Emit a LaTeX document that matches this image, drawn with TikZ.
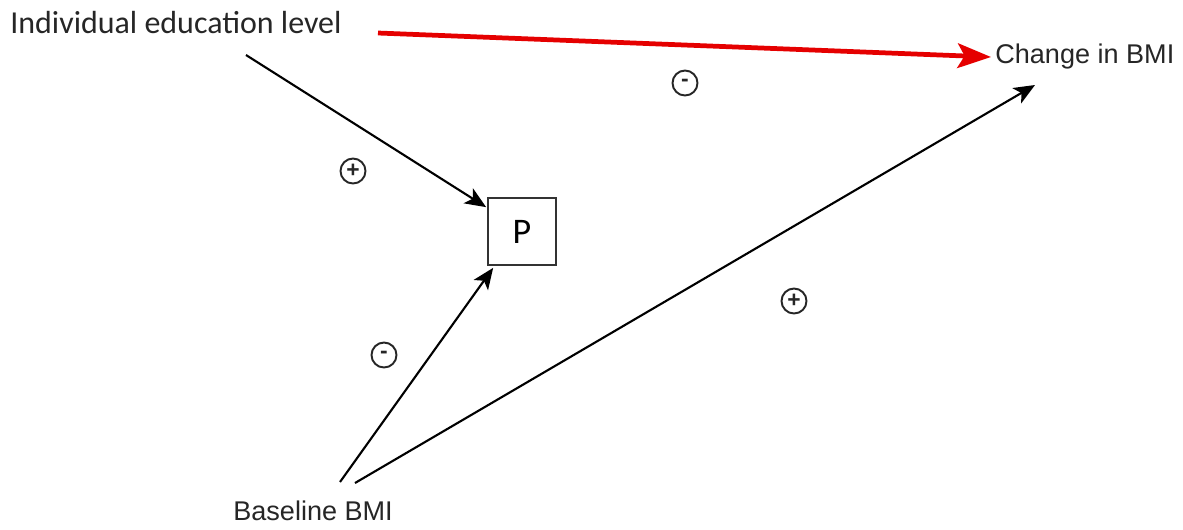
\documentclass[tikz,border=0pt]{standalone}
\usepackage{fontspec}
\setmainfont{Liberation Sans}
\newfontfamily\califont{Carlito}
\usetikzlibrary{arrows.meta,calc}
\begin{document}
\begin{tikzpicture}[x=0.02cm,y=-0.02cm,
  lbl/.style={inner sep=0pt,anchor=base west,font=\fontsize{15.4pt}{18pt}\selectfont,text=black!85},
  conn/.style={line width=1.2pt,draw=black,-{Stealth[length=12pt,width=10pt,inset=3pt]}},
  redconn/.style={line width=2.7pt,draw=red!90!black,-{Stealth[length=19pt,width=14pt,inset=4pt]}},
  sign/.style={circle,draw=black!85,line width=1.1pt,minimum size=0.5cm,inner sep=0pt,font=\fontsize{13pt}{14pt}\selectfont\bfseries,text=black!85},
  pbox/.style={draw=black!80,line width=1pt,minimum width=1.36cm,minimum height=1.34cm,inner sep=0pt,font=\califont\fontsize{20.5pt}{22pt}\selectfont}]
\useasboundingbox (0,0) rectangle (1183,529);
\node[lbl,font=\califont\fontsize{18.2pt}{20pt}\selectfont] (edu) at (10,33) {Individual education level};
\node[lbl] (chg) at (995,63) {Change in BMI};
\node[lbl] (base) at (233,520) {Baseline BMI};
\node[pbox] (P) at (522,231.5) {P};
\coordinate (eduout) at (378,33);
\coordinate (edustart) at (246,55);
\coordinate (baseP) at (340,482);
\coordinate (baseC) at (355,483);
\coordinate (chgin) at (1035,85);
\draw[redconn] (eduout) -- ($(chg.base west)+(-4,-6)$);
\draw[conn] (edustart) -- ($(P.north west)+(-1,10)$);
\draw[conn] (baseP) -- ($(P.south west)+(6,2)$);
\draw[conn] (baseC) -- (chgin);
\node[sign] (s1) at (353,171) {+};
\node[sign] (s2) at (685,83) {-};
\node[sign] (s3) at (794,301) {+};
\node[sign] (s4) at (384,355) {-};
\end{tikzpicture}
\end{document}
